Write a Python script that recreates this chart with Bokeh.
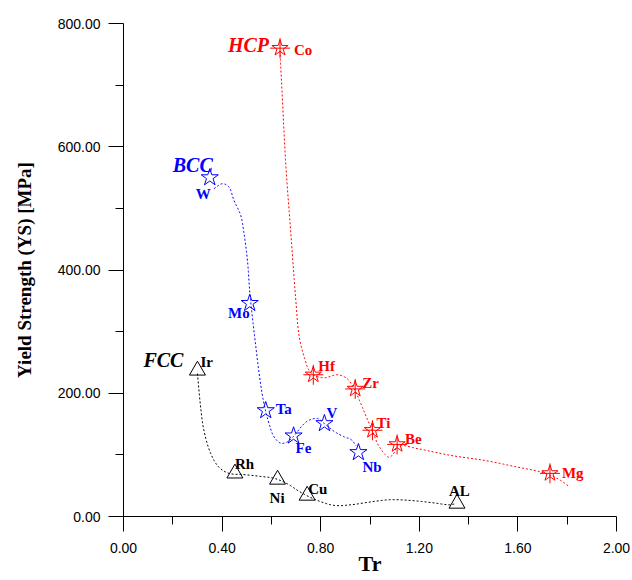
import numpy as np
from bokeh.plotting import figure
from bokeh.models import FixedTicker, PrintfTickFormatter, Label, ColumnDataSource
from bokeh.core.properties import value
from bokeh.embed import file_html
from bokeh.resources import INLINE

# ---- data ----
hcp_names = ["Co", "Hf", "Zr", "Ti", "Be", "Mg"]
hcp_tr = [0.635, 0.77, 0.94, 1.01, 1.11, 1.73]
hcp_ys = [760, 230, 207, 140, 117, 70]

bcc_names = ["W", "Mo", "Ta", "Fe", "V", "Nb"]
bcc_tr = [0.35, 0.512, 0.577, 0.69, 0.815, 0.953]
bcc_ys = [550, 346, 172, 131, 151, 104]

fcc_names = ["Ir", "Rh", "Ni", "Cu", "AL"]
fcc_tr = [0.30, 0.452, 0.625, 0.745, 1.353]
fcc_ys = [237, 70, 60, 34, 21]

# dotted guide curves
hcp_curve_tr = [0.635, 0.638, 0.645, 0.659, 0.679, 0.699, 0.713, 0.733, 0.753, 0.774,
                0.814, 0.869, 0.909, 0.936, 0.963, 0.991, 1.011, 1.031, 1.058, 1.078,
                1.099, 1.112, 1.194, 1.329, 1.465, 1.600, 1.695, 1.763, 1.803]
hcp_curve_ys = [756, 729, 675, 567, 459, 351, 291, 259, 237, 229,
                225, 230, 223, 207, 183, 156, 138, 118, 102, 96,
                104, 115, 110, 99, 91, 80, 72, 61, 50]

bcc_curve_tr = [0.367, 0.401, 0.427, 0.448, 0.476, 0.489, 0.503, 0.513, 0.537, 0.554,
                0.570, 0.591, 0.611, 0.638, 0.665, 0.692, 0.720, 0.747, 0.787, 0.814,
                0.855, 0.896, 0.923, 0.943]
bcc_curve_ys = [532, 540, 535, 513, 488, 459, 415, 361, 275, 221,
                183, 150, 129, 119, 121, 131, 145, 155, 159, 151,
                138, 129, 125, 115]

fcc_curve_tr = [0.300, 0.313, 0.326, 0.354, 0.387, 0.428, 0.489, 0.557, 0.611, 0.665,
                0.720, 0.787, 0.855, 0.923, 0.991, 1.072, 1.126, 1.194, 1.261, 1.322, 1.350]
fcc_curve_ys = [232, 177, 140, 102, 80, 70, 68, 65, 62, 53,
                39, 26, 18, 19, 23, 27, 27, 25, 22, 19, 21]

x_ticks = [0.0, 0.4, 0.8, 1.2, 1.6, 2.0]
x_minor = [0.2, 0.6, 1.0, 1.4, 1.8]
y_ticks = [0, 200, 400, 600, 800]
y_minor = [100, 300, 500, 700]

# ---- label styling (pixel offsets, not data) ----
hcp_dx = [14, 5, 7, 4, 8, 12]
hcp_dy = [2, -9, -6, -7, -5, 0]
hcp_al = ["left"] * 6
bcc_dx = [1, 0, 10, 2, 2, 4]
bcc_dy = [16, 10, -2, 12, -10, 15]
bcc_al = ["right", "right", "left", "left", "left", "left"]
fcc_dx = [3, 0, -8, 1, -8]
fcc_dy = [-8, -9, 18, -7, -13]
fcc_al = ["left"] * 5

W, H = 632, 579
BL, BT, BR, BB = 123, 23, 16, 63
X0, X1, Y0, Y1 = 0.0, 2.0, 0.0, 800.0
SX = (W - BL - BR) / (X1 - X0)   # pixels per data unit (for smooth rendering)
SY = (H - BT - BB) / (Y1 - Y0)


def smooth_curve(xs, ys, n=10):
    """Centripetal Catmull-Rom rendering through traced curve vertices."""
    P = np.column_stack([np.asarray(xs, float) * SX, np.asarray(ys, float) * SY])
    P = np.vstack([2 * P[0] - P[1], P, 2 * P[-1] - P[-2]])
    out = []
    for i in range(1, len(P) - 2):
        p0, p1, p2, p3 = P[i - 1], P[i], P[i + 1], P[i + 2]
        t0 = 0.0
        t1 = t0 + np.linalg.norm(p1 - p0) ** 0.5
        t2 = t1 + np.linalg.norm(p2 - p1) ** 0.5
        t3 = t2 + np.linalg.norm(p3 - p2) ** 0.5
        t = np.linspace(t1, t2, n)[:, None]
        A1 = (t1 - t) / (t1 - t0) * p0 + (t - t0) / (t1 - t0) * p1
        A2 = (t2 - t) / (t2 - t1) * p1 + (t - t1) / (t2 - t1) * p2
        A3 = (t3 - t) / (t3 - t2) * p2 + (t - t2) / (t3 - t2) * p3
        B1 = (t2 - t) / (t2 - t0) * A1 + (t - t0) / (t2 - t0) * A2
        B2 = (t3 - t) / (t3 - t1) * A2 + (t - t1) / (t3 - t1) * A3
        C = (t2 - t) / (t2 - t1) * B1 + (t - t1) / (t2 - t1) * B2
        out.append(C if i == len(P) - 3 else C[:-1])
    C = np.vstack(out)
    return C[:, 0] / SX, C[:, 1] / SY


p = figure(width=W, height=H, x_range=(X0, X1), y_range=(Y0, Y1),
           output_backend="svg", toolbar_location=None,
           min_border_left=BL, min_border_top=BT, min_border_right=BR, min_border_bottom=BB)
p.outline_line_color = None
p.xgrid.visible = False
p.ygrid.visible = False
p.background_fill_color = "white"
p.border_fill_color = "white"

for ax in (p.xaxis[0], p.yaxis[0]):
    ax.axis_line_color = "black"
    ax.major_tick_line_color = "black"
    ax.minor_tick_line_color = "black"
    ax.major_tick_in = 0
    ax.minor_tick_in = 0
    ax.major_tick_out = 15
    ax.minor_tick_out = 8
    ax.major_label_text_font = "Liberation Sans"
    ax.major_label_text_font_size = "14px"
    ax.major_label_text_color = "black"
    ax.formatter = PrintfTickFormatter(format="%.2f")

p.xaxis[0].ticker = FixedTicker(ticks=x_ticks, minor_ticks=x_minor)
p.yaxis[0].ticker = FixedTicker(ticks=y_ticks, minor_ticks=y_minor)
p.xaxis[0].major_label_standoff = 11
p.yaxis[0].major_label_standoff = 8

p.yaxis[0].axis_label = "Yield Strength (YS) [MPa]"
p.yaxis[0].axis_label_text_font = "Liberation Serif"
p.yaxis[0].axis_label_text_font_style = "bold"
p.yaxis[0].axis_label_text_font_size = "19px"
p.yaxis[0].axis_label_text_color = "black"
p.yaxis[0].axis_label_standoff = 20

p.xaxis[0].axis_label = "Tr"
p.xaxis[0].axis_label_text_font = "Liberation Serif"
p.xaxis[0].axis_label_text_font_style = "bold"
p.xaxis[0].axis_label_text_font_size = "22px"
p.xaxis[0].axis_label_text_color = "black"
p.xaxis[0].axis_label_standoff = -5

groups = [
    ("HCP", hcp_names, hcp_tr, hcp_ys, hcp_dx, hcp_dy, hcp_al, "#FF0000", hcp_curve_tr, hcp_curve_ys),
    ("BCC", bcc_names, bcc_tr, bcc_ys, bcc_dx, bcc_dy, bcc_al, "#0000FF", bcc_curve_tr, bcc_curve_ys),
    ("FCC", fcc_names, fcc_tr, fcc_ys, fcc_dx, fcc_dy, fcc_al, "black", fcc_curve_tr, fcc_curve_ys),
]

group_offsets = {"HCP": (-11, -3), "BCC": (3, -13), "FCC": (-14, -10)}

for gname, names, xs, ys, dxs, dys, als, col, cx, cy in groups:
    sx, sy = smooth_curve(cx, cy)
    p.line(sx, sy, line_color=col, line_width=1, line_dash="2 2")
    src = ColumnDataSource(dict(x=xs, y=ys, name=names, dx=dxs, dy=dys, al=als))
    if gname == "HCP":
        p.scatter("x", "y", source=src, marker="star", size=17, fill_color=None,
                  line_color=col, line_width=1)
        p.scatter("x", "y", source=src, marker="cross", size=20,
                  line_color=col, line_width=1)
    elif gname == "BCC":
        p.scatter("x", "y", source=src, marker="star", size=18, fill_color=None,
                  line_color=col, line_width=1)
    else:
        p.scatter("x", "y", source=src, marker="triangle", size=16, fill_color=None,
                  line_color=col, line_width=1)
    p.text("x", "y", text="name", source=src, x_offset="dx", y_offset="dy",
           text_align="al", text_baseline="middle",
           text_font=value("Liberation Serif"), text_font_style="bold",
           text_font_size="15px", text_color=col)
    gx, gy = group_offsets[gname]
    p.add_layout(Label(x=xs[0], y=ys[0], x_offset=gx, y_offset=-gy, text=gname,
                       text_align="right", text_baseline="middle",
                       text_font="Liberation Serif", text_font_style="bold italic",
                       text_font_size="20px", text_color=col))

open("out.html", "w").write(file_html(p, INLINE))
